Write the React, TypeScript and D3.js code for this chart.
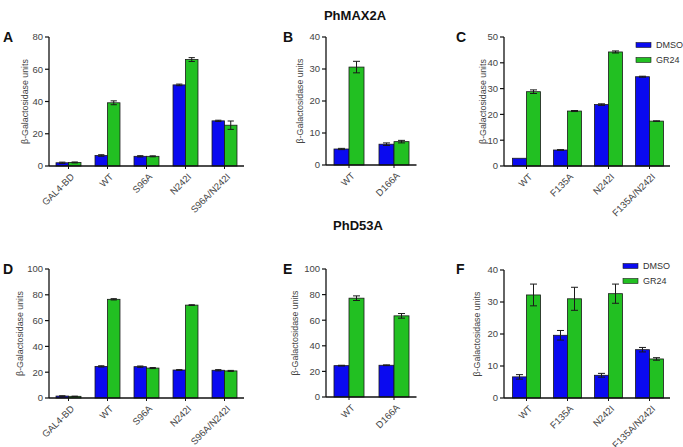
import React from "react";
import * as d3 from "d3";

// ---------- DATA ----------
const seriesNames = ["DMSO", "GR24"];

const catsA = ["GAL4-BD", "WT", "S96A", "N242I", "S96A/N242I"];
const dmsoA = [2.0, 6.5, 6.0, 50.3, 28.0];
const dmsoErrA = [0.4, 0.5, 0.4, 0.5, 0.4];
const gr24A = [2.2, 39.2, 6.0, 66.0, 25.3];
const gr24ErrA = [0.3, 1.2, 0.3, 1.2, 2.6];
const ticksA = [0, 20, 40, 60, 80];

const catsB = ["WT", "D166A"];
const dmsoB = [5.0, 6.5];
const dmsoErrB = [0.2, 0.4];
const gr24B = [30.6, 7.3];
const gr24ErrB = [1.8, 0.4];
const ticksB = [0, 10, 20, 30, 40];

const catsC = ["WT", "F135A", "N242I", "F135A/N242I"];
const dmsoC = [3.0, 6.2, 23.8, 34.6];
const dmsoErrC = [0.0, 0.15, 0.3, 0.2];
const gr24C = [28.8, 21.3, 44.2, 17.4];
const gr24ErrC = [0.7, 0.2, 0.4, 0.1];
const ticksC = [0, 10, 20, 30, 40, 50];

const catsD = ["GAL4-BD", "WT", "S96A", "N242I", "S96A/N242I"];
const dmsoD = [1.5, 24.5, 24.3, 21.7, 21.5];
const dmsoErrD = [0.2, 0.5, 0.5, 0.3, 0.5];
const gr24D = [1.3, 76.5, 23.2, 72.0, 21.0];
const gr24ErrD = [0.1, 0.5, 0.4, 0.3, 0.4];
const ticksD = [0, 20, 40, 60, 80, 100];

const catsE = ["WT", "D166A"];
const dmsoE = [24.5, 24.8];
const dmsoErrE = [0.3, 0.3];
const gr24E = [77.2, 63.4];
const gr24ErrE = [1.8, 1.8];
const ticksE = [0, 20, 40, 60, 80, 100];

const catsF = ["WT", "F135A", "N242I", "F135A/N242I"];
const dmsoF = [6.6, 19.6, 7.1, 15.1];
const dmsoErrF = [0.7, 1.5, 0.6, 0.7];
const gr24F = [32.2, 31.0, 32.6, 12.2];
const gr24ErrF = [3.4, 3.6, 3.0, 0.4];
const ticksF = [0, 10, 20, 30, 40];

const yLabel = "β-Galactosidase units";
const titles = ["PhMAX2A", "PhD53A"];

// ---------- STYLE ----------
const BLUE = "#0a0af0";
const GREEN = "#22c022";
const FONT = "Liberation Sans, Arial, sans-serif";
const colors = [BLUE, GREEN];

type PanelProps = {
  cats: string[];
  vals: number[][];
  errs: number[][];
  ticks: number[];
  axisX: number;
  xRange: [number, number];
  padding: number;
  y0: number;
  yTop: number;
  labelX: number;
  legend?: [number, number];
};

function Panel(p: PanelProps) {
  const yMax = p.ticks[p.ticks.length - 1];
  const y = d3.scaleLinear().domain([0, yMax]).range([p.y0, p.yTop]);
  const x = d3
    .scaleBand<string>()
    .domain(p.cats)
    .range(p.xRange)
    .paddingInner(p.padding)
    .paddingOuter(p.padding / 2);
  const sub = d3.scaleBand<string>().domain(seriesNames).range([0, x.bandwidth()]);
  const bw = sub.bandwidth();
  const cap = Math.min(7, bw * 0.5);
  return (
    <g>
      {p.cats.map((c, i) =>
        seriesNames.map((s, j) => {
          const v = p.vals[j][i];
          const e = p.errs[j][i];
          const bx = (x(c) as number) + (sub(s) as number);
          const cx = bx + bw / 2;
          return (
            <g key={c + s}>
              <rect x={bx} y={y(v)} width={bw} height={p.y0 - y(v)} fill={colors[j]} stroke="#1a1a1a" strokeWidth={0.8} />
              {e > 0 && (
                <g stroke="#1a1a1a" strokeWidth={1}>
                  <line x1={cx} x2={cx} y1={y(v + e)} y2={y(v - e)} />
                  <line x1={cx - cap / 2} x2={cx + cap / 2} y1={y(v + e)} y2={y(v + e)} />
                  <line x1={cx - cap / 2} x2={cx + cap / 2} y1={y(v - e)} y2={y(v - e)} />
                </g>
              )}
            </g>
          );
        })
      )}
      <line x1={p.axisX} x2={p.axisX} y1={p.yTop} y2={p.y0} stroke="#111" strokeWidth={1.3} />
      {p.ticks.map((t) => (
        <g key={t}>
          <line x1={p.axisX - 4} x2={p.axisX} y1={y(t)} y2={y(t)} stroke="#111" strokeWidth={1.2} />
          <text x={p.axisX - 6} y={y(t)} dy="0.35em" textAnchor="end" fontFamily={FONT} fontSize={9.5} fill="#444">
            {t}
          </text>
        </g>
      ))}
      <line x1={p.axisX} x2={p.xRange[1]} y1={p.y0} y2={p.y0} stroke="#111" strokeWidth={1.3} />
      {p.cats.map((c) => {
        const cx = (x(c) as number) + x.bandwidth() / 2;
        return (
          <g key={c}>
            <line x1={cx} x2={cx} y1={p.y0} y2={p.y0 + 3} stroke="#111" strokeWidth={1} />
            <text
              transform={`translate(${cx + 4},${p.y0 + 9}) rotate(-45)`}
              textAnchor="end"
              dy="0.35em"
              fontFamily={FONT}
              fontSize={9.5}
              fill="#444"
            >
              {c}
            </text>
          </g>
        );
      })}
      <text
        transform={`translate(${p.labelX},${(p.y0 + p.yTop) / 2}) rotate(-90)`}
        textAnchor="middle"
        dy="0.35em"
        fontFamily={FONT}
        fontSize={8.8}
        fill="#444"
      >
        {yLabel}
      </text>
      {p.legend &&
        seriesNames.map((s, j) => (
          <g key={s}>
            <rect x={p.legend![0]} y={p.legend![1] + j * 15 - 2.5} width={15} height={5} fill={colors[j]} stroke="#1a1a1a" strokeWidth={0.6} />
            <text x={p.legend![0] + 20} y={p.legend![1] + j * 15} dy="0.35em" fontFamily={FONT} fontSize={9} fill="#333">
              {s}
            </text>
          </g>
        ))}
    </g>
  );
}

const letters = [
  { t: "A", x: 3, y: 42 },
  { t: "B", x: 283, y: 42 },
  { t: "C", x: 456, y: 42 },
  { t: "D", x: 3, y: 274 },
  { t: "E", x: 283, y: 274 },
  { t: "F", x: 456, y: 274 },
];

export default function App() {
  return (
    <svg width={683} height={447} style={{ position: "absolute", left: 0, top: 0, background: "#fff" }}>
      <rect width={683} height={447} fill="#fff" />
      <text x={355} y={15} dy="0.35em" textAnchor="middle" fontFamily={FONT} fontWeight="bold" fontSize={13} fill="#111">
        {titles[0]}
      </text>
      <text x={358} y={225} dy="0.35em" textAnchor="middle" fontFamily={FONT} fontWeight="bold" fontSize={13} fill="#111">
        {titles[1]}
      </text>
      {letters.map((l) => (
        <text key={l.t} x={l.x} y={l.y} fontFamily={FONT} fontWeight="bold" fontSize={14} fill="#111">
          {l.t}
        </text>
      ))}
      <Panel cats={catsA} vals={[dmsoA, gr24A]} errs={[dmsoErrA, gr24ErrA]} ticks={ticksA}
        axisX={49} xRange={[49, 244]} padding={0.36} y0={166} yTop={37} labelX={25} />
      <Panel cats={catsB} vals={[dmsoB, gr24B]} errs={[dmsoErrB, gr24ErrB]} ticks={ticksB}
        axisX={326} xRange={[326.5, 416.5]} padding={0.333} y0={165} yTop={37} labelX={300} />
      <Panel cats={catsC} vals={[dmsoC, gr24C]} errs={[dmsoErrC, gr24ErrC]} ticks={ticksC}
        axisX={504} xRange={[506, 670]} padding={0.317} y0={166} yTop={37} labelX={483} legend={[636, 45]} />
      <Panel cats={catsD} vals={[dmsoD, gr24D]} errs={[dmsoErrD, gr24ErrD]} ticks={ticksD}
        axisX={49} xRange={[49, 244]} padding={0.36} y0={398} yTop={269} labelX={20} />
      <Panel cats={catsE} vals={[dmsoE, gr24E]} errs={[dmsoErrE, gr24ErrE]} ticks={ticksE}
        axisX={326} xRange={[326.5, 416.5]} padding={0.333} y0={397} yTop={269} labelX={295} />
      <Panel cats={catsF} vals={[dmsoF, gr24F]} errs={[dmsoErrF, gr24ErrF]} ticks={ticksF}
        axisX={504} xRange={[506, 670]} padding={0.317} y0={398} yTop={270} labelX={477} legend={[623, 266]} />
    </svg>
  );
}
